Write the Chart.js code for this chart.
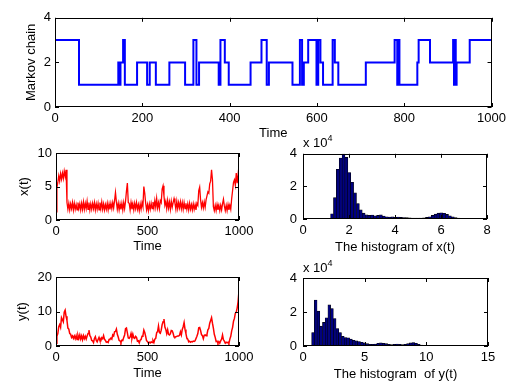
<!DOCTYPE html>
<html>
<head>
<meta charset="utf-8">
<script src="https://cdn.jsdelivr.net/npm/chart.js@4.4.0/dist/chart.umd.min.js"></script>
<style>
  body { margin: 0; background: #fff; width: 516px; height: 386px; position: relative; overflow: hidden; font-family: "Liberation Sans", Arial, sans-serif; }
  canvas { position: absolute; }
  .escala { position: absolute; font-size: 13px; color: #000; line-height: 13px; white-space: nowrap; }
  .escala sup { font-size: 9px; vertical-align: 6px; line-height: 0; }
</style>
</head>
<body>
<canvas id="graficaMarkov" width="510" height="140" style="left:0;top:6px"></canvas>
<canvas id="graficaX" width="258" height="116" style="left:0;top:140px"></canvas>
<canvas id="graficaHistX" width="250" height="116" style="left:260px;top:140px"></canvas>
<canvas id="graficaY" width="258" height="122" style="left:0;top:264px"></canvas>
<canvas id="graficaHistY" width="250" height="122" style="left:260px;top:264px"></canvas>
<div class="escala" style="left:303px;top:136px">x 10<sup>4</sup></div>
<div class="escala" style="left:303px;top:261px">x 10<sup>4</sup></div>
<script>
// cadena de Markov: instante de cada cambio y estado desde ese instante
const tiemposCambio = [0, 55, 145, 148, 150, 156, 160, 188, 211, 217,
    231, 262, 298, 317, 324, 330, 375, 379, 389, 398,
    448, 473, 485, 490, 544, 561, 566, 570, 580, 599,
    603, 608, 614, 636, 641, 649, 712, 778, 784, 786,
    789, 830, 833, 859, 912, 914, 916, 918, 920, 950, 1000];
const estadosMarkov = [3, 1, 2, 1, 2, 3, 1, 2, 1, 2,
    1, 2, 1, 3, 1, 2, 1, 3, 2, 1,
    2, 3, 1, 2, 1, 3, 1, 2, 3, 1,
    3, 2, 1, 3, 2, 1, 2, 3, 1, 3,
    1, 2, 3, 2, 3, 1, 3, 1, 2, 3, 3];

// x(t) e y(t), una muestra cada 5 unidades de tiempo (0..1000)
const pasoTiempo = 5;
const serieX = [
    1.2, 4.8, 5.6, 6.6, 5.8, 6.9, 6.1, 7.0, 6.2, 7.3,
    6.5, 7.5, 2.6, 1.6, 2.5, 1.5, 2.4, 1.7, 2.6, 1.5,
    2.5, 1.6, 2.3, 1.5, 2.6, 1.7, 2.4, 1.5, 2.5, 1.6,
    2.7, 1.6, 2.5, 1.7, 2.8, 1.6, 2.6, 1.5, 2.4, 1.6,
    2.5, 1.7, 2.6, 1.5, 2.4, 1.6, 2.5, 1.5, 2.6, 1.7,
    2.7, 1.6, 2.4, 1.5, 2.3, 1.6, 2.5, 1.5, 2.4, 1.6,
    2.5, 1.7, 2.6, 1.8, 2.9, 4.1, 2.7, 1.6, 2.5, 1.5,
    2.4, 1.6, 2.5, 1.5, 2.6, 1.7, 2.8, 4.3, 5.5, 2.6,
    2.5, 1.5, 2.6, 1.6, 2.4, 1.5, 2.5, 1.7, 2.6, 1.6,
    2.3, 1.4, 2.4, 1.6, 2.6, 2.0, 5.0, 4.0, 2.5, 1.5,
    2.3, 1.4, 2.4, 1.6, 2.5, 1.7, 2.7, 1.8, 2.9, 1.9,
    3.2, 1.8, 2.6, 1.7, 2.9, 2.6, 4.6, 5.1, 3.6, 2.2,
    2.8, 1.7, 2.9, 1.8, 2.7, 1.6, 2.8, 1.9, 2.6, 3.2,
    2.5, 1.6, 2.8, 1.7, 2.6, 1.8, 2.7, 1.7, 2.6, 1.6,
    2.6, 1.7, 2.5, 1.6, 2.4, 1.5, 2.5, 1.6, 2.3, 1.5,
    2.4, 1.6, 2.3, 1.5, 2.5, 2.2, 4.4, 4.9, 3.0, 1.9,
    2.6, 1.8, 2.7, 1.9, 3.0, 3.0, 4.2, 4.0, 5.4, 5.8,
    7.5, 6.0, 2.0, 1.4, 2.2, 1.4, 2.3, 1.5, 2.2, 1.4,
    2.2, 1.5, 2.4, 3.1, 2.1, 1.4, 2.2, 1.4, 2.3, 1.5,
    2.2, 1.6, 3.2, 4.4, 5.6, 6.0, 5.2, 7.0, 5.5, 6.8,
    5.4];
const serieY = [
    0.8, 2.8, 3.6, 5.6, 6.2, 5.4, 8.2, 7.6, 7.0, 9.8,
    10.4, 8.6, 7.4, 5.2, 4.9, 3.6, 3.4, 2.5, 2.9, 2.2,
    2.9, 2.1, 3.0, 1.9, 3.1, 2.2, 3.2, 2.0, 2.9, 1.8,
    3.0, 2.1, 2.8, 2.0, 2.9, 3.6, 4.6, 3.0, 2.6, 1.6,
    1.5, 1.0, 2.2, 2.7, 1.6, 1.2, 1.9, 2.5, 1.6, 1.5,
    2.4, 2.1, 3.0, 2.0, 1.6, 1.1, 1.2, 1.0, 1.9, 2.0,
    2.3, 2.0, 3.2, 2.9, 4.1, 4.2, 4.9, 3.4, 2.6, 1.6,
    1.5, 1.0, 1.7, 1.6, 2.5, 3.2, 5.0, 5.2, 3.8, 2.3,
    2.2, 2.6, 3.6, 2.2, 3.4, 2.4, 2.2, 2.8, 2.5, 1.4,
    1.5, 0.9, 1.7, 1.9, 2.8, 3.0, 4.6, 3.9, 2.8, 1.5,
    1.3, 0.8, 1.1, 0.9, 1.2, 1.0, 1.6, 1.0, 2.0, 2.2,
    3.8, 4.2, 5.8, 3.9, 3.7, 4.6, 6.2, 7.0, 7.8, 5.5,
    4.8, 3.6, 4.7, 3.4, 3.2, 3.6, 4.5, 4.4, 3.7, 2.6,
    2.5, 2.7, 2.8, 2.9, 2.9, 3.1, 4.1, 3.2, 4.8, 5.6,
    6.8, 4.8, 3.6, 2.3, 2.0, 1.2, 1.4, 1.1, 1.3, 1.2,
    1.4, 1.3, 1.5, 1.5, 2.8, 3.6, 5.3, 5.4, 4.5, 3.3,
    3.0, 2.1, 3.1, 3.2, 3.0, 3.4, 4.7, 5.1, 6.6, 7.4,
    8.2, 6.6, 5.2, 3.4, 2.5, 1.3, 1.4, 0.8, 1.3, 0.8,
    1.5, 2.0, 3.2, 1.8, 1.4, 0.8, 1.1, 0.9, 1.1, 0.8,
    2.0, 2.8, 4.4, 5.4, 7.2, 8.0, 9.5, 9.8, 11.0, 12.8,
    16.0];

// histogramas: inicio y ancho de clase, y cuentas por clase
const inicioHistX = 1.2;
const anchoHistX = 0.125;
const cuentasHistX = [3200, 13100, 30500, 37400, 40000, 37800, 28500, 22500, 16000, 9500,
    5600, 3600, 2500, 2200, 2400, 2000, 2200, 2500, 1800, 1400,
    1200, 1300, 1100, 1200, 1000, 900, 800, 700, 600, 600,
    500, 600, 700, 1000, 1400, 2200, 3000, 3600, 3800, 3500,
    2800, 2000, 1300, 800, 500, 300, 200, 100];
const inicioHistY = 0.7;
const anchoHistY = 0.22;
const cuentasHistY = [7900, 27000, 20500, 11700, 13900, 16600, 24200, 22000, 16200, 10300,
    7900, 5700, 5000, 4800, 4000, 3400, 3000, 2600, 2200, 1800,
    1400, 1000, 1000, 1200, 1600, 1800, 1600, 1400, 1000, 800,
    1000, 1200, 1000, 800, 1000, 1400, 1800, 2000, 1600, 1000,
    600, 300];

Chart.defaults.font.family = '"Liberation Sans", Arial, sans-serif';
Chart.defaults.font.size = 13;
Chart.defaults.color = '#000';

// caja completa y marcas hacia dentro, como en matlab
const cajaMatlab = {
    id: 'cajaMatlab',
    afterDraw(chart) {
        const ctx = chart.ctx;
        const a = chart.chartArea;
        const ejeX = chart.scales.x;
        const ejeY = chart.scales.y;
        ctx.save();
        ctx.strokeStyle = '#000';
        ctx.lineWidth = 1;
        ctx.beginPath();
        ejeX.ticks.forEach(t => {
            const px = Math.round(ejeX.getPixelForValue(t.value)) + 0.5;
            ctx.moveTo(px, a.bottom); ctx.lineTo(px, a.bottom - 4);
            ctx.moveTo(px, a.top); ctx.lineTo(px, a.top + 4);
        });
        ejeY.ticks.forEach(t => {
            const py = Math.round(ejeY.getPixelForValue(t.value)) + 0.5;
            ctx.moveTo(a.left, py); ctx.lineTo(a.left + 4, py);
            ctx.moveTo(a.right, py); ctx.lineTo(a.right - 4, py);
        });
        ctx.stroke();
        ctx.strokeRect(Math.round(a.left) + 0.5, Math.round(a.top) + 0.5,
            Math.round(a.right - a.left) - 1, Math.round(a.bottom - a.top) - 1);
        ctx.restore();
    }
};

function escalas(cfg) {
    return {
        x: {
            type: 'linear', min: cfg.xMin, max: cfg.xMax, offset: false,
            grid: { display: false, drawTicks: false }, border: { display: false },
            ticks: { stepSize: cfg.xPaso, padding: 4, maxRotation: 0, callback: v => String(v) },
            title: { display: true, text: cfg.tituloX, padding: { top: 0, bottom: cfg.pbX } },
            afterFit: e => { e.height = cfg.altoX; }
        },
        y: {
            min: cfg.yMin, max: cfg.yMax,
            grid: { display: false, drawTicks: false }, border: { display: false },
            ticks: { stepSize: cfg.yPaso, padding: cfg.padY || 4, callback: cfg.formatoY || (v => String(v)) },
            title: { display: !!cfg.tituloY, text: cfg.tituloY, padding: { top: cfg.ptY || 0, bottom: 0 } },
            afterFit: e => { e.width = cfg.anchoY; }
        }
    };
}

function opcionesBase(cfg) {
    return {
        responsive: false,
        animation: false,
        devicePixelRatio: 1,
        layout: { padding: { top: cfg.padTop, right: cfg.padRight, left: 0, bottom: 0 } },
        plugins: { legend: { display: false }, tooltip: { enabled: false } },
        scales: escalas(cfg)
    };
}

function puntosSerie(valores) {
    return valores.map((v, i) => ({ x: i * pasoTiempo, y: v }));
}

function puntosHist(inicio, ancho, cuentas) {
    return cuentas.map((c, i) => ({ x: inicio + ancho * (i + 0.5), y: c }));
}

new Chart(document.getElementById('graficaMarkov'), {
    type: 'line',
    data: {
        datasets: [{
            data: tiemposCambio.map((t, i) => ({ x: t, y: estadosMarkov[i] })),
            stepped: 'before',
            borderColor: '#0000ff',
            borderWidth: 2,
            pointRadius: 0
        }]
    },
    options: opcionesBase({
        padTop: 10, padRight: 18, xMin: 0, xMax: 1000, xPaso: 200, yMin: 0, yMax: 4, yPaso: 2,
        tituloX: 'Time', pbX: 5, altoX: 39, tituloY: 'Markov chain', ptY: 24, anchoY: 55
    }),
    plugins: [cajaMatlab]
});

new Chart(document.getElementById('graficaX'), {
    type: 'line',
    data: {
        datasets: [{
            data: puntosSerie(serieX),
            borderColor: '#ff0000',
            borderWidth: 1.3,
            pointRadius: 0
        }]
    },
    options: opcionesBase({
        padTop: 13, padRight: 19, xMin: 0, xMax: 1000, xPaso: 500, yMin: 0, yMax: 10, yPaso: 5,
        tituloX: 'Time', pbX: 2, altoX: 36, tituloY: 'x(t)', ptY: 17, anchoY: 56
    }),
    plugins: [cajaMatlab]
});

new Chart(document.getElementById('graficaY'), {
    type: 'line',
    data: {
        datasets: [{
            data: puntosSerie(serieY),
            borderColor: '#ff0000',
            borderWidth: 1.5,
            pointRadius: 0
        }]
    },
    options: opcionesBase({
        padTop: 13, padRight: 19, xMin: 0, xMax: 1000, xPaso: 500, yMin: 0, yMax: 20, yPaso: 10,
        tituloX: 'Time', pbX: 5, altoX: 40, tituloY: 'y(t)', ptY: 15, anchoY: 56
    }),
    plugins: [cajaMatlab]
});

function graficaHist(id, inicio, ancho, cuentas, cfg) {
    new Chart(document.getElementById(id), {
        type: 'bar',
        data: {
            datasets: [{
                data: puntosHist(inicio, ancho, cuentas),
                backgroundColor: '#000080',
                borderColor: '#000000',
                borderWidth: 0.6,
                barPercentage: 1,
                categoryPercentage: 1
            }]
        },
        options: opcionesBase(cfg),
        plugins: [cajaMatlab]
    });
}

graficaHist('graficaHistX', inicioHistX, anchoHistX, cuentasHistX, {
    padTop: 12, padRight: 23, xMin: 0, xMax: 8, xPaso: 2, yMin: 0, yMax: 40000, yPaso: 20000,
    formatoY: v => String(v / 10000), padY: 6,
    tituloX: 'The histogram of x(t)', pbX: 1, altoX: 37, anchoY: 43
});

graficaHist('graficaHistY', inicioHistY, anchoHistY, cuentasHistY, {
    padTop: 14, padRight: 22, xMin: 0, xMax: 15, xPaso: 5, yMin: 0, yMax: 40000, yPaso: 20000,
    formatoY: v => String(v / 10000), padY: 6,
    tituloX: 'The histogram  of y(t)', pbX: 4, altoX: 40, anchoY: 43
});
</script>
</body>
</html>
